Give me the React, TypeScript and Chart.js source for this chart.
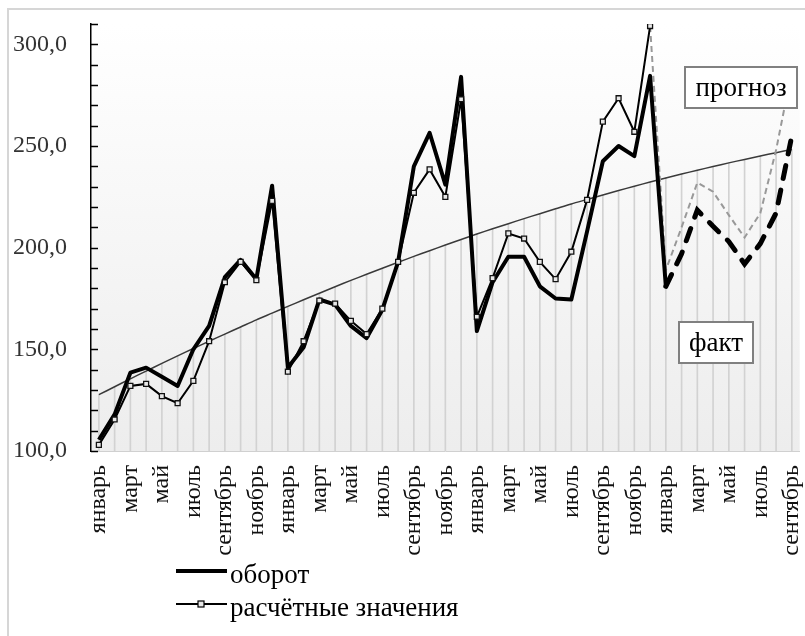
import React, { useEffect, useRef } from "react";
import { Chart, registerables } from "chart.js";

Chart.register(...registerables);

const categories = [
  "январь", "февраль", "март", "апрель", "май", "июнь", "июль", "август", "сентябрь", "октябрь", "ноябрь", "декабрь",
  "январь", "февраль", "март", "апрель", "май", "июнь", "июль", "август", "сентябрь", "октябрь", "ноябрь", "декабрь",
  "январь", "февраль", "март", "апрель", "май", "июнь", "июль", "август", "сентябрь", "октябрь", "ноябрь", "декабрь",
  "январь", "февраль", "март", "апрель", "май", "июнь", "июль", "август", "сентябрь",
];

// оборот (факт), Jan yr1 .. Jan yr4
const turnoverValues = [
  105.5, 118, 138.5, 141, 136.5, 132, 150, 161.5, 185.5, 194, 184.5, 230.5,
  141, 151, 174.5, 172, 161.5, 155.5, 169.5, 193, 240, 256.5, 231, 284,
  159, 183, 195.5, 195.5, 181, 175, 174.5, 208, 242.5, 250, 245, 284.5,
  181,
];

// факт continuation (thick dashed), Jan yr4 .. Sep yr4
const factForecastValues = [181, 197, 218.5, 210.5, 203, 192, 202, 217, 255];

// расчётные значения, Jan yr1 .. Dec yr3
const calculatedValues = [
  103, 115.5, 132, 133, 127, 123.5, 134.5, 154, 183, 193, 184, 223,
  139, 154, 174, 172.5, 164, 157.5, 170, 193, 227, 238.5, 225, 273,
  166, 185, 207, 204.5, 193, 184.5, 198, 223.5, 262, 273.5, 257, 309,
];

// прогноз (grey dashed), Dec yr3 .. Sep yr4
const forecastValues = [309, 189, 210, 232, 227.5, 216, 205, 217, 248, 287];

// trend line
const trendValues = [
  127.7, 131.6, 135.5, 139.3, 143.1, 146.8, 150.4, 154.0, 157.5, 161.0, 164.5, 167.8,
  171.1, 174.4, 177.6, 180.8, 183.9, 186.9, 189.9, 192.8, 195.7, 198.5, 201.3, 204.0,
  206.7, 209.3, 211.8, 214.3, 216.7, 219.1, 221.5, 223.7, 225.9, 228.1, 230.2, 232.3,
  234.3, 236.2, 238.1, 239.9, 241.7, 243.4, 245.1, 246.7, 248.3,
];

const yLabelValues = [100, 150, 200, 250, 300];
const legendLabels = ["оборот", "расчётные значения"];
const noteForecast = "прогноз";
const noteFact = "факт";

const N = categories.length;
const pad = (arr: number[], start: number) => {
  const out: (number | null)[] = new Array(N).fill(null);
  arr.forEach((v, i) => (out[start + i] = v));
  return out;
};

const SERIF = "'Liberation Serif', 'Times New Roman', serif";

export default function App() {
  const ref = useRef<HTMLCanvasElement | null>(null);

  useEffect(() => {
    if (!ref.current) return;

    const bgPlugin = {
      id: "bg",
      beforeDraw(chart: any) {
        const { ctx, chartArea: a, width, height } = chart;
        ctx.save();
        ctx.fillStyle = "#ffffff";
        ctx.fillRect(0, 0, width, height);
        ctx.strokeStyle = "#d6d6d6";
        ctx.lineWidth = 2;
        ctx.strokeRect(8, 9, width + 20, height + 20);
        const g = ctx.createLinearGradient(0, a.top, 0, a.bottom);
        g.addColorStop(0, "#ffffff");
        g.addColorStop(1, "#ededed");
        ctx.fillStyle = g;
        ctx.fillRect(a.left, a.top, a.right - a.left, a.bottom - a.top);
        ctx.restore();
      },
    };

    const decoPlugin = {
      id: "deco",
      afterDraw(chart: any) {
        const { ctx, chartArea: a } = chart;
        const ys = chart.scales.y;
        ctx.save();
        // inside tick marks
        ctx.strokeStyle = "#000";
        ctx.lineWidth = 1.5;
        ys.ticks.forEach((t: any) => {
          const y = Math.round(ys.getPixelForValue(t.value)) + 0.5;
          ctx.beginPath();
          ctx.moveTo(a.left, y);
          ctx.lineTo(a.left + 7, y);
          ctx.stroke();
        });

        // annotation boxes
        const box = (text: string, x: number, y: number, w: number, h: number) => {
          ctx.fillStyle = "#fff";
          ctx.fillRect(x, y, w, h);
          ctx.strokeStyle = "#808080";
          ctx.lineWidth = 2;
          ctx.strokeRect(x, y, w, h);
          ctx.fillStyle = "#000";
          ctx.font = `27px ${SERIF}`;
          ctx.textAlign = "center";
          ctx.textBaseline = "middle";
          ctx.fillText(text, x + w / 2, y + h / 2 + 1);
        };
        box(noteForecast, 685, 67, 112, 41);
        box(noteFact, 679, 322, 74, 41);

        // legend
        ctx.textAlign = "left";
        ctx.textBaseline = "alphabetic";
        ctx.font = `27px ${SERIF}`;
        ctx.fillStyle = "#000";
        ctx.strokeStyle = "#000";
        ctx.lineWidth = 4;
        ctx.beginPath();
        ctx.moveTo(176, 571);
        ctx.lineTo(227, 571);
        ctx.stroke();
        ctx.fillText(legendLabels[0], 230, 583);

        ctx.lineWidth = 2;
        ctx.beginPath();
        ctx.moveTo(176, 604);
        ctx.lineTo(227, 604);
        ctx.stroke();
        ctx.fillStyle = "#e8e8e8";
        ctx.fillRect(198, 601, 6, 6);
        ctx.lineWidth = 1.2;
        ctx.strokeRect(198, 601, 6, 6);
        ctx.fillStyle = "#000";
        ctx.fillText(legendLabels[1], 230, 616);
        ctx.restore();
      },
    };

    const chart = new Chart(ref.current, {
      type: "line",
      data: {
        labels: categories,
        datasets: [
          {
            type: "line",
            label: "расчётные значения",
            data: pad(calculatedValues, 0),
            borderColor: "#000",
            borderWidth: 2,
            pointStyle: "rect",
            pointRadius: 3.5,
            pointBackgroundColor: "#e8e8e8",
            pointBorderColor: "#111",
            pointBorderWidth: 1.3,
            tension: 0,
            order: 1,
          },
          {
            type: "line",
            label: "оборот",
            data: pad(turnoverValues, 0),
            borderColor: "#000",
            borderWidth: 4,
            pointRadius: 0,
            borderJoinStyle: "round",
            tension: 0,
            order: 2,
          },
          {
            type: "line",
            label: "факт",
            data: pad(factForecastValues, 36),
            borderColor: "#000",
            borderWidth: 5,
            borderDash: [13, 12],
            borderCapStyle: "round",
            pointRadius: 0,
            tension: 0,
            order: 3,
          },
          {
            type: "line",
            label: "прогноз",
            data: pad(forecastValues, 35),
            borderColor: "#999",
            borderWidth: 2,
            borderDash: [6, 4],
            pointRadius: 0,
            tension: 0,
            order: 4,
          },
          {
            type: "line",
            label: "тренд",
            data: trendValues,
            borderColor: "#3a3a3a",
            borderWidth: 1.5,
            pointRadius: 0,
            tension: 0.3,
            order: 5,
          },
          {
            type: "bar",
            label: "drop",
            data: trendValues,
            backgroundColor: "#d2d2d2",
            barThickness: 1,
            order: 6,
          },
        ],
      },
      options: {
        responsive: false,
        animation: false,
        devicePixelRatio: 1,
        layout: { padding: { top: 24, left: 0, right: 3, bottom: 75 } },
        plugins: { legend: { display: false }, tooltip: { enabled: false } },
        scales: {
          x: {
            type: "category",
            offset: true,
            grid: { display: false, drawTicks: false },
            border: { color: "#d0d0d0", width: 1 },
            ticks: {
              autoSkip: false,
              maxRotation: 90,
              minRotation: 90,
              padding: 14,
              color: "#111",
              font: { family: SERIF, size: 24 },
              callback: (_v: any, i: number) => (i % 2 === 0 ? categories[i] : ""),
            },
            afterFit: (s: any) => {
              s.height = 110;
              s.paddingLeft = 0;
              s.paddingRight = 0;
            },
          },
          y: {
            min: 100,
            max: 310,
            grid: { display: true, drawOnChartArea: false, drawTicks: false },
            border: { color: "#000", width: 1.5 },
            ticks: {
              stepSize: 10,
              autoSkip: false,
              padding: 24,
              color: "#333",
              font: { family: SERIF, size: 24 },
              callback: (v: any) =>
                yLabelValues.includes(Number(v)) ? Number(v).toFixed(1).replace(".", ",") : "",
            },
            afterFit: (s: any) => {
              s.width = 91;
              s.paddingTop = 0;
              s.paddingBottom = 0;
            },
          },
        },
      },
      plugins: [bgPlugin, decoPlugin],
    } as any);

    return () => chart.destroy();
  }, []);

  return (
    <div style={{ position: "absolute", left: 0, top: 0, width: 805, height: 636 }}>
      <canvas ref={ref} width={805} height={636} style={{ display: "block" }} />
    </div>
  );
}
